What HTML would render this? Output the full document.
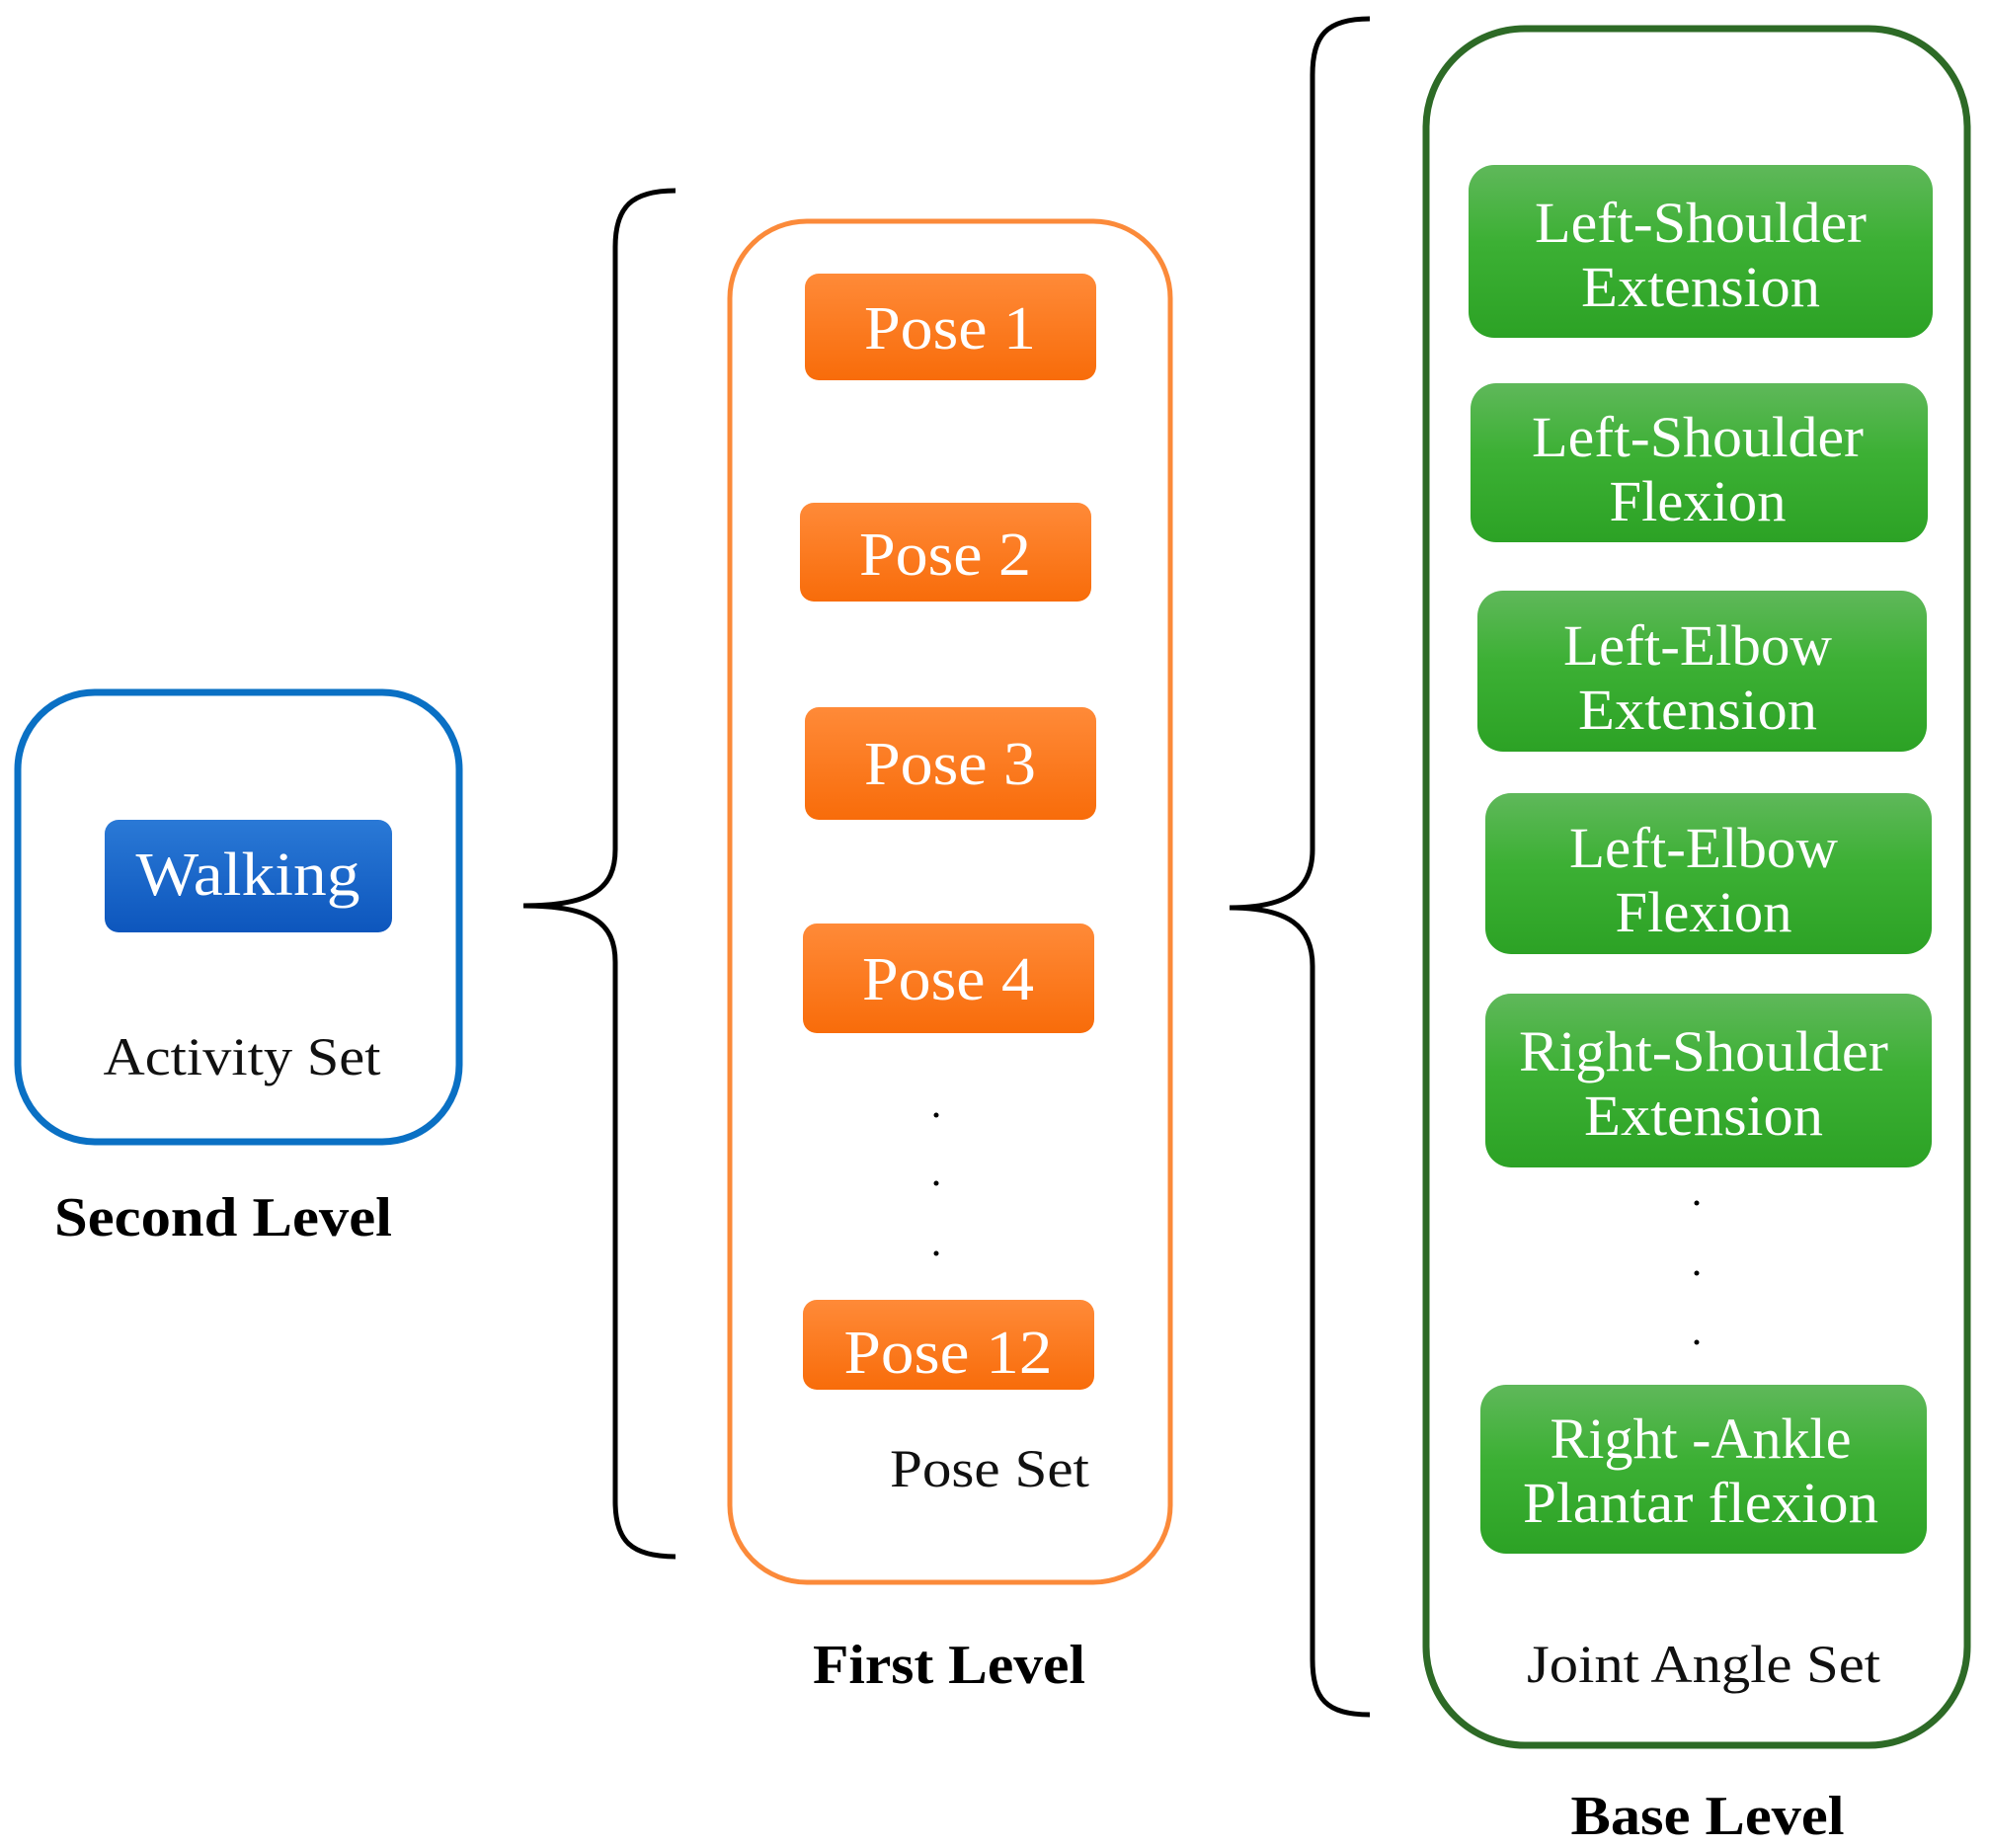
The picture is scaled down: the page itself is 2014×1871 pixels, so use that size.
<!DOCTYPE html>
<html><head><meta charset="utf-8"><style>html,body{margin:0;padding:0;background:#fff}svg{display:block}</style></head>
<body>
<svg width="2014" height="1871" viewBox="0 0 2014 1871" xmlns="http://www.w3.org/2000/svg" font-family="Liberation Serif, serif">
<defs>
<linearGradient id="g" x1="0" y1="0" x2="0" y2="1"><stop offset="0" stop-color="#5fb85a"/><stop offset="0.45" stop-color="#3cb034"/><stop offset="1" stop-color="#2ca225"/></linearGradient>
<linearGradient id="o" x1="0" y1="0" x2="0" y2="1"><stop offset="0" stop-color="#ff8a38"/><stop offset="1" stop-color="#f86c0a"/></linearGradient>
<linearGradient id="b" x1="0" y1="0" x2="0" y2="1"><stop offset="0" stop-color="#2a79d6"/><stop offset="1" stop-color="#0d56bd"/></linearGradient>
</defs>
<!-- Second level -->
<rect x="18" y="701" width="447" height="455" rx="78" fill="none" stroke="#0a70c4" stroke-width="7"/>
<rect x="106" y="830" width="291" height="114" rx="14" fill="url(#b)"/>
<text x="251" y="906" font-size="62" fill="#fff" text-anchor="middle" textLength="227" lengthAdjust="spacingAndGlyphs">Walking</text>
<text x="245" y="1088" font-size="54" fill="#111" text-anchor="middle" textLength="281" lengthAdjust="spacingAndGlyphs">Activity Set</text>
<text x="226" y="1251" font-size="56" font-weight="bold" fill="#000" text-anchor="middle" textLength="342" lengthAdjust="spacingAndGlyphs">Second Level</text>
<!-- left brace -->
<path d="M684 193 C639 193 623 210 623 250 L623 860 C623 900 599 917 530 917 C599 917 623 934 623 974 L623 1520 C623 1560 639 1576 684 1576" fill="none" stroke="#000" stroke-width="5"/>
<g transform="translate(-3,0)">
<!-- first level -->
<rect x="742" y="224" width="446" height="1378" rx="78" fill="none" stroke="#fb8a3a" stroke-width="5"/>
<g fill="url(#o)">
<rect x="818" y="277" width="295" height="108" rx="14"/>
<rect x="813" y="509" width="295" height="100" rx="14"/>
<rect x="818" y="716" width="295" height="114" rx="14"/>
<rect x="816" y="935" width="295" height="111" rx="14"/>
<rect x="816" y="1316" width="295" height="91" rx="14"/>
</g>
<g font-size="62" fill="#fff" text-anchor="middle">
<text x="965" y="353" textLength="174" lengthAdjust="spacingAndGlyphs">Pose 1</text>
<text x="960" y="582" textLength="174" lengthAdjust="spacingAndGlyphs">Pose 2</text>
<text x="965" y="794" textLength="174" lengthAdjust="spacingAndGlyphs">Pose 3</text>
<text x="963" y="1012" textLength="174" lengthAdjust="spacingAndGlyphs">Pose 4</text>
<text x="963" y="1390" textLength="211" lengthAdjust="spacingAndGlyphs">Pose 12</text>
</g>
<g fill="#000"><circle cx="951" cy="1129" r="2.5"/><circle cx="951" cy="1198" r="2.5"/><circle cx="951" cy="1269" r="2.5"/></g>
<text x="1005" y="1505" font-size="54" fill="#111" text-anchor="middle" textLength="202" lengthAdjust="spacingAndGlyphs">Pose Set</text>
<text x="964" y="1704" font-size="56" font-weight="bold" fill="#000" text-anchor="middle" textLength="276" lengthAdjust="spacingAndGlyphs">First Level</text>
</g>
<g transform="translate(-5,0)">
<!-- right brace -->
<path d="M1392 19 C1348 19 1334 36 1334 76 L1334 860 C1334 900 1310 919 1250 919 C1310 919 1334 938 1334 978 L1334 1680 C1334 1720 1348 1736 1392 1736" fill="none" stroke="#000" stroke-width="5"/>
<!-- base level -->
<rect x="1449" y="29" width="548" height="1738" rx="100" fill="none" stroke="#2d6a26" stroke-width="7"/>
<g fill="url(#g)">
<rect x="1492" y="167" width="470" height="175" rx="26"/>
<rect x="1494" y="388" width="463" height="161" rx="26"/>
<rect x="1501" y="598" width="455" height="163" rx="26"/>
<rect x="1509" y="803" width="452" height="163" rx="26"/>
<rect x="1509" y="1006" width="452" height="176" rx="26"/>
<rect x="1504" y="1402" width="452" height="171" rx="26"/>
</g>
<g font-size="58" fill="#fff" text-anchor="middle">
<text x="1727" y="245" textLength="336" lengthAdjust="spacingAndGlyphs">Left-Shoulder</text><text x="1727" y="310" textLength="242" lengthAdjust="spacingAndGlyphs">Extension</text>
<text x="1724" y="462" textLength="336" lengthAdjust="spacingAndGlyphs">Left-Shoulder</text><text x="1724" y="527" textLength="179" lengthAdjust="spacingAndGlyphs">Flexion</text>
<text x="1724" y="673" textLength="272" lengthAdjust="spacingAndGlyphs">Left-Elbow</text><text x="1724" y="738" textLength="242" lengthAdjust="spacingAndGlyphs">Extension</text>
<text x="1730" y="878" textLength="272" lengthAdjust="spacingAndGlyphs">Left-Elbow</text><text x="1730" y="943" textLength="179" lengthAdjust="spacingAndGlyphs">Flexion</text>
<text x="1730" y="1084" textLength="374" lengthAdjust="spacingAndGlyphs">Right-Shoulder</text><text x="1730" y="1149" textLength="242" lengthAdjust="spacingAndGlyphs">Extension</text>
<text x="1727" y="1476" textLength="305" lengthAdjust="spacingAndGlyphs">Right -Ankle</text><text x="1727" y="1541" textLength="360" lengthAdjust="spacingAndGlyphs">Plantar flexion</text>
</g>
<g fill="#000"><circle cx="1723" cy="1218" r="2.5"/><circle cx="1723" cy="1289" r="2.5"/><circle cx="1723" cy="1359" r="2.5"/></g>
<text x="1730" y="1703" font-size="54" fill="#111" text-anchor="middle" textLength="358" lengthAdjust="spacingAndGlyphs">Joint Angle Set</text>
<text x="1734" y="1857" font-size="56" font-weight="bold" fill="#000" text-anchor="middle" textLength="277" lengthAdjust="spacingAndGlyphs">Base Level</text>
</g>
</svg>
</body></html>
